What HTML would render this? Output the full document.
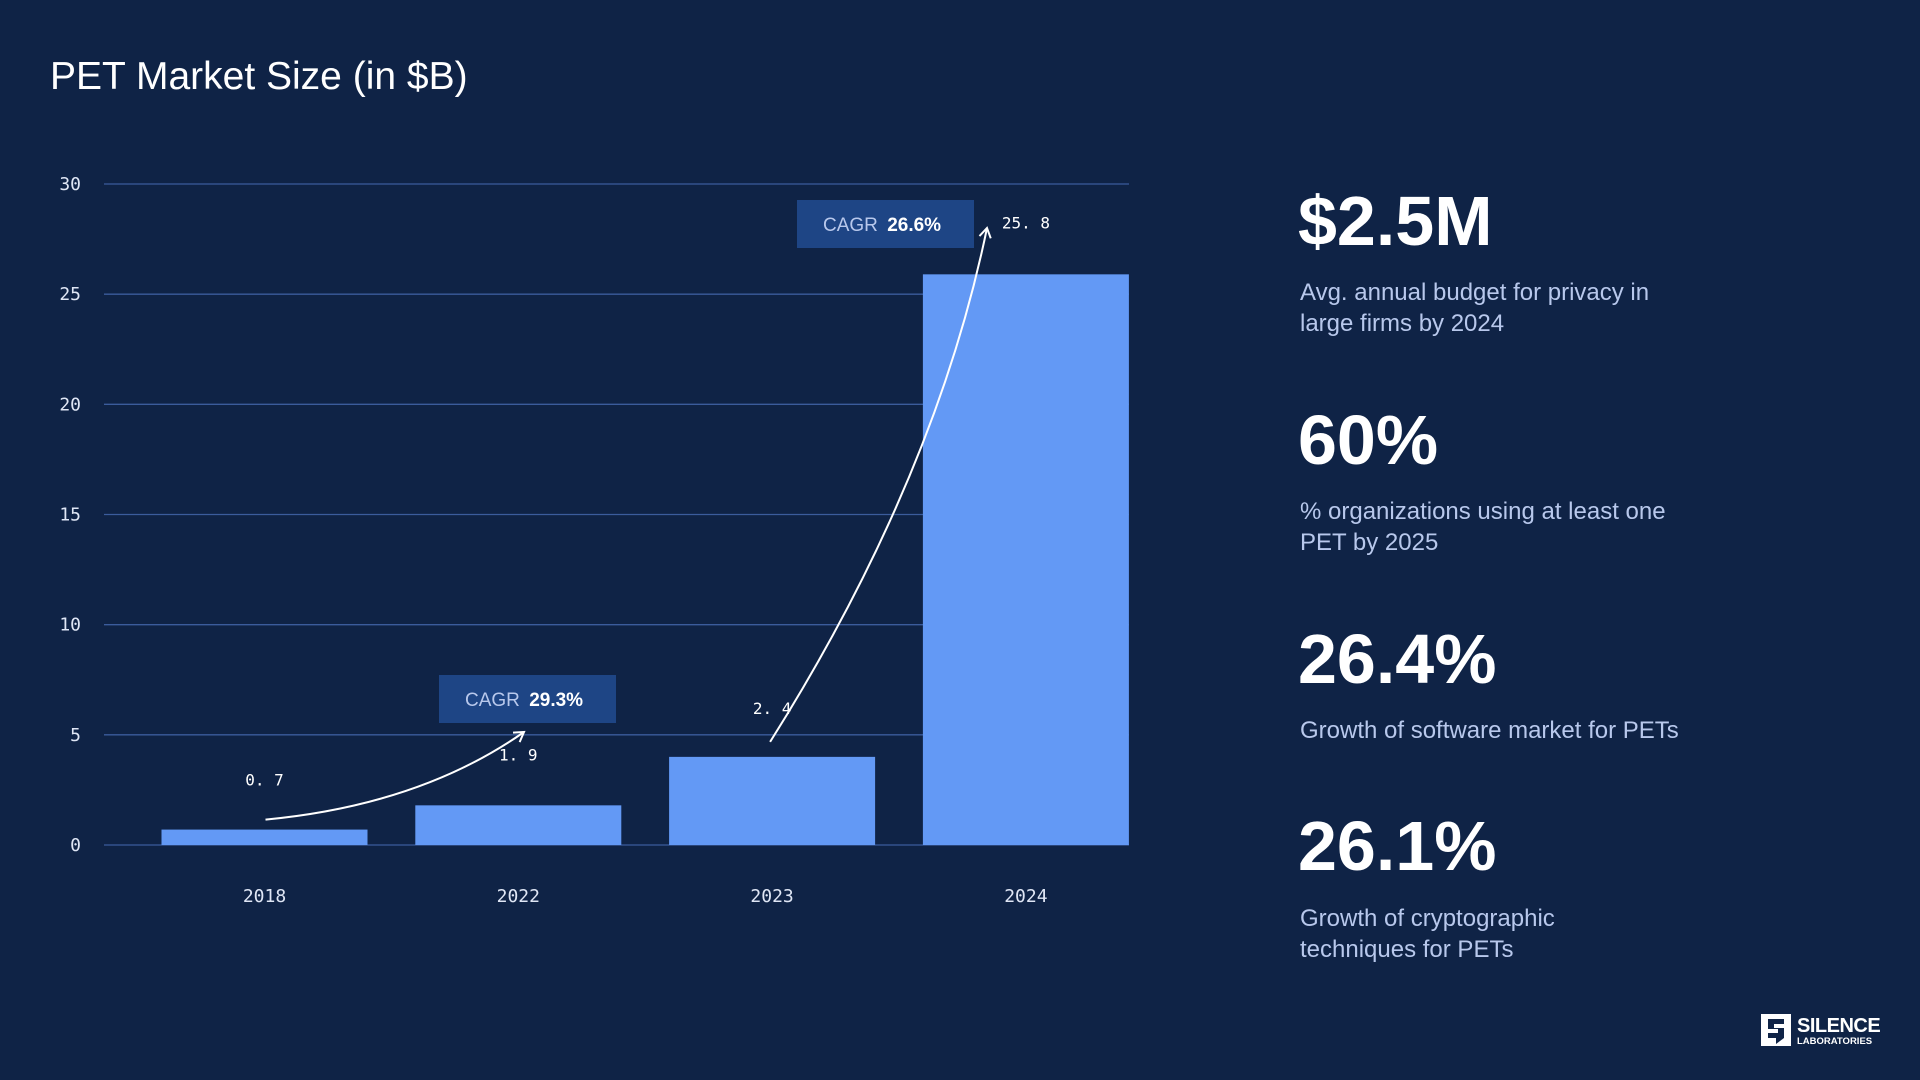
<!DOCTYPE html>
<html>
<head>
<meta charset="utf-8">
<style>
  html,body{margin:0;padding:0;background:#0f2346;}
  body{width:1920px;height:1080px;overflow:hidden;font-family:"Liberation Sans",sans-serif;}
  svg{display:block;}
</style>
</head>
<body>
<svg id="chart" width="1920" height="1080" viewBox="0 0 1920 1080" xmlns="http://www.w3.org/2000/svg">
  <rect x="0" y="0" width="1920" height="1080" fill="#0f2346"/>
  <text x="50" y="89" fill="#ffffff" font-family="Liberation Sans, sans-serif" font-size="39">PET Market Size (in $B)</text>

  <g id="grid"></g>
  <g id="bars"></g>
  <g id="labels"></g>

  <g>
    <rect x="439" y="675" width="177" height="48" fill="#1e4585"/>
    <text x="465" y="706" fill="#b8c8ec" font-size="19" font-family="Liberation Sans, sans-serif">CAGR <tspan font-weight="bold" fill="#ffffff" dx="4">29.3%</tspan></text>
  </g>
  <g>
    <rect x="797" y="200" width="177" height="48" fill="#1e4585"/>
    <text x="823" y="231" fill="#b8c8ec" font-size="19" font-family="Liberation Sans, sans-serif">CAGR <tspan font-weight="bold" fill="#ffffff" dx="4">26.6%</tspan></text>
  </g>
  <g id="arrows" fill="none" stroke="#ffffff" stroke-width="2"></g>

  <g font-family="Liberation Sans, sans-serif">
    <text x="1298" y="245" fill="#ffffff" font-size="70" font-weight="bold">$2.5M</text>
    <text x="1300" y="300" fill="#b8c8ec" font-size="24">Avg. annual budget for privacy in</text>
    <text x="1300" y="331" fill="#b8c8ec" font-size="24">large firms by 2024</text>
  </g>
  <g font-family="Liberation Sans, sans-serif">
    <text x="1298" y="464" fill="#ffffff" font-size="70" font-weight="bold">60%</text>
    <text x="1300" y="519" fill="#b8c8ec" font-size="24">% organizations using at least one</text>
    <text x="1300" y="550" fill="#b8c8ec" font-size="24">PET by 2025</text>
  </g>
  <g font-family="Liberation Sans, sans-serif">
    <text x="1298" y="683" fill="#ffffff" font-size="70" font-weight="bold">26.4%</text>
    <text x="1300" y="738" fill="#b8c8ec" font-size="24">Growth of software market for PETs</text>
  </g>
  <g font-family="Liberation Sans, sans-serif">
    <text x="1298" y="870" fill="#ffffff" font-size="70" font-weight="bold">26.1%</text>
    <text x="1300" y="926" fill="#b8c8ec" font-size="24">Growth of cryptographic</text>
    <text x="1300" y="957" fill="#b8c8ec" font-size="24">techniques for PETs</text>
  </g>

  <g>
    <rect x="1761" y="1014" width="30" height="32" fill="#ffffff"/>
    <path d="M1768 1019 h16 v5 h-10 v4 h10 v10 l-8 6 v-6 h-8 v-5 h10 v-4 h-10 z" fill="#0f2346"/>
    <text x="1797" y="1032" fill="#ffffff" font-size="20" font-weight="bold" font-family="Liberation Sans, sans-serif" letter-spacing="-0.5">SILENCE</text>
    <text x="1797" y="1044" fill="#ffffff" font-size="9.5" font-weight="bold" font-family="Liberation Sans, sans-serif">LABORATORIES</text>
  </g>
</svg>
<script>
const categories = ["2018", "2022", "2023", "2024"];
const barValues = [0.7, 1.8, 4.0, 25.9];
const valueLabels = ["0. 7", "1. 9", "2. 4", "25. 8"];
const yTicks = [0, 5, 10, 15, 20, 25, 30];

const NS = "http://www.w3.org/2000/svg";
const plotLeft = 104, plotRight = 1129, yTop = 184, yBottom = 845;
const yMax = 30;
const bandLeft = 137.6, band = 253.8, barW = 206;
function y(v){ return yBottom - (v / yMax) * (yBottom - yTop); }
function xc(i){ return bandLeft + (i + 0.5) * band; }
function mk(tag, attrs){ const e = document.createElementNS(NS, tag); for (const k in attrs) e.setAttribute(k, attrs[k]); return e; }

const grid = document.getElementById("grid");
yTicks.forEach(t => {
  const ln = mk("line", {x1: plotLeft, x2: plotRight, y1: y(t), y2: y(t), stroke: "#3b5c9c", "stroke-width": 1.3});
  
  
  grid.appendChild(ln);
  const tx = mk("text", {x: 81, y: y(t) + 6, fill: "#dfe6f5", "font-size": 18, "text-anchor": "end", "font-family": "DejaVu Sans Mono, Liberation Mono, monospace"});
  tx.textContent = t;
  
  
  grid.appendChild(tx);
});

const bars = document.getElementById("bars");
const labels = document.getElementById("labels");
categories.forEach((c, i) => {
  const r = mk("rect", {x: xc(i) - barW / 2, y: y(barValues[i]), width: barW, height: y(0) - y(barValues[i]), fill: "#6399f5"});
  
  
  bars.appendChild(r);
  const xl = mk("text", {x: xc(i), y: 902, fill: "#dfe6f5", "font-size": 18, "text-anchor": "middle", "font-family": "DejaVu Sans Mono, Liberation Mono, monospace"});
  xl.textContent = c;
  
  
  labels.appendChild(xl);
});

const labelPos = [
  [xc(0), y(barValues[0]) - 44],
  [xc(1), y(barValues[1]) - 45],
  [xc(2), y(barValues[2]) - 43],
  [xc(3), y(barValues[3]) - 46]
];
valueLabels.forEach((v, i) => {
  const t = mk("text", {x: labelPos[i][0], y: labelPos[i][1], fill: "#ffffff", "font-size": 16, "text-anchor": "middle", "font-family": "DejaVu Sans Mono, Liberation Mono, monospace"});
  t.textContent = v;
  
  
  labels.appendChild(t);
});

const arrows = document.getElementById("arrows");
function arrow(x0, y0, cx, cy, x1, y1, name){
  const p = mk("path", {d: `M${x0} ${y0} Q${cx} ${cy} ${x1} ${y1}`});
  
  
  arrows.appendChild(p);
  const ang = Math.atan2(y1 - cy, x1 - cx);
  const L = 11, a = 0.55;
  const h = mk("path", {d: `M${x1 - L*Math.cos(ang - a)} ${y1 - L*Math.sin(ang - a)} L${x1} ${y1} L${x1 - L*Math.cos(ang + a)} ${y1 - L*Math.sin(ang + a)}`});
  
  
  arrows.appendChild(h);
}
arrow(xc(0) + 1, y(barValues[0]) - 10, 420, 805, 524, 732, 'arrow-2018-2022');
arrow(xc(2) - 2, y(barValues[2]) - 15, 935, 480, 987, 228, 'arrow-2023-2024');
</script>
</body>
</html>
